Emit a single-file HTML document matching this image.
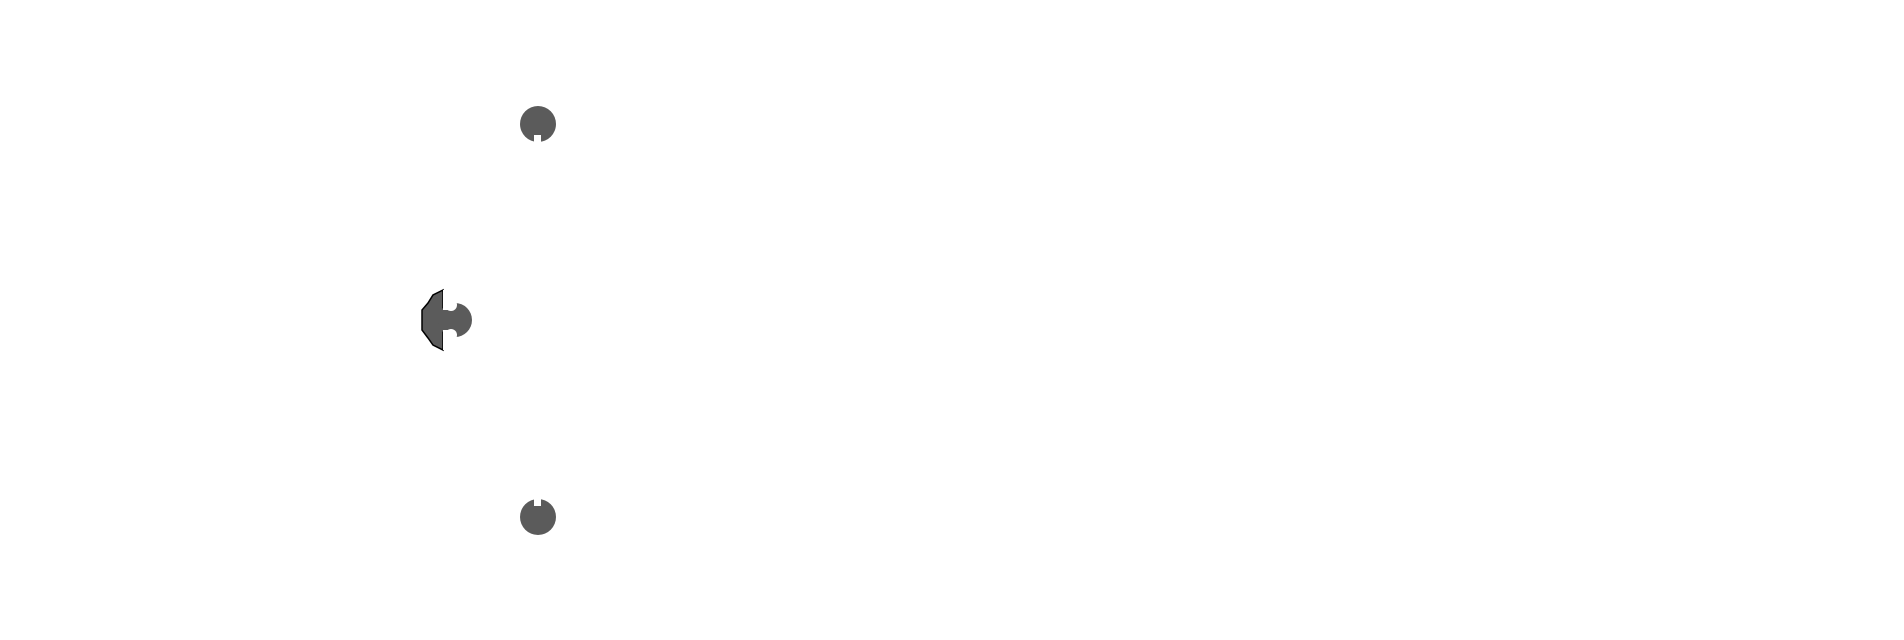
<!DOCTYPE html>
<html><head><style>html,body{margin:0;padding:0;background:#fff;width:1904px;height:640px;overflow:hidden}</style></head>
<body>
<svg width="1904" height="640" xmlns="http://www.w3.org/2000/svg">
<g fill="#5b5b5b">
<circle cx="538" cy="124" r="18"/>
<rect x="534" y="135" width="7" height="8" fill="#fff"/>
<circle cx="538" cy="517" r="18"/>
<rect x="534" y="498" width="7" height="8" fill="#fff"/>
<path d="M443 290 L433 295 L428 303 L422 310 L422 330 L428 338 L433 345 L443 350 Z" stroke="#000" stroke-width="1.5"/>
<rect x="443" y="291" width="2" height="58"/>
<circle cx="455" cy="320" r="17"/>
<rect x="443" y="300" width="8" height="40"/>
<rect x="443" y="290" width="5" height="20" fill="#fff"/>
<circle cx="451" cy="305" r="6" fill="#fff"/>
<rect x="443" y="330" width="5" height="20" fill="#fff"/>
<circle cx="451" cy="335" r="6" fill="#fff"/>
<path d="M443 290 L443 350" stroke="#5b5b5b" stroke-width="0"/>
</g>
</svg>
</body></html>
